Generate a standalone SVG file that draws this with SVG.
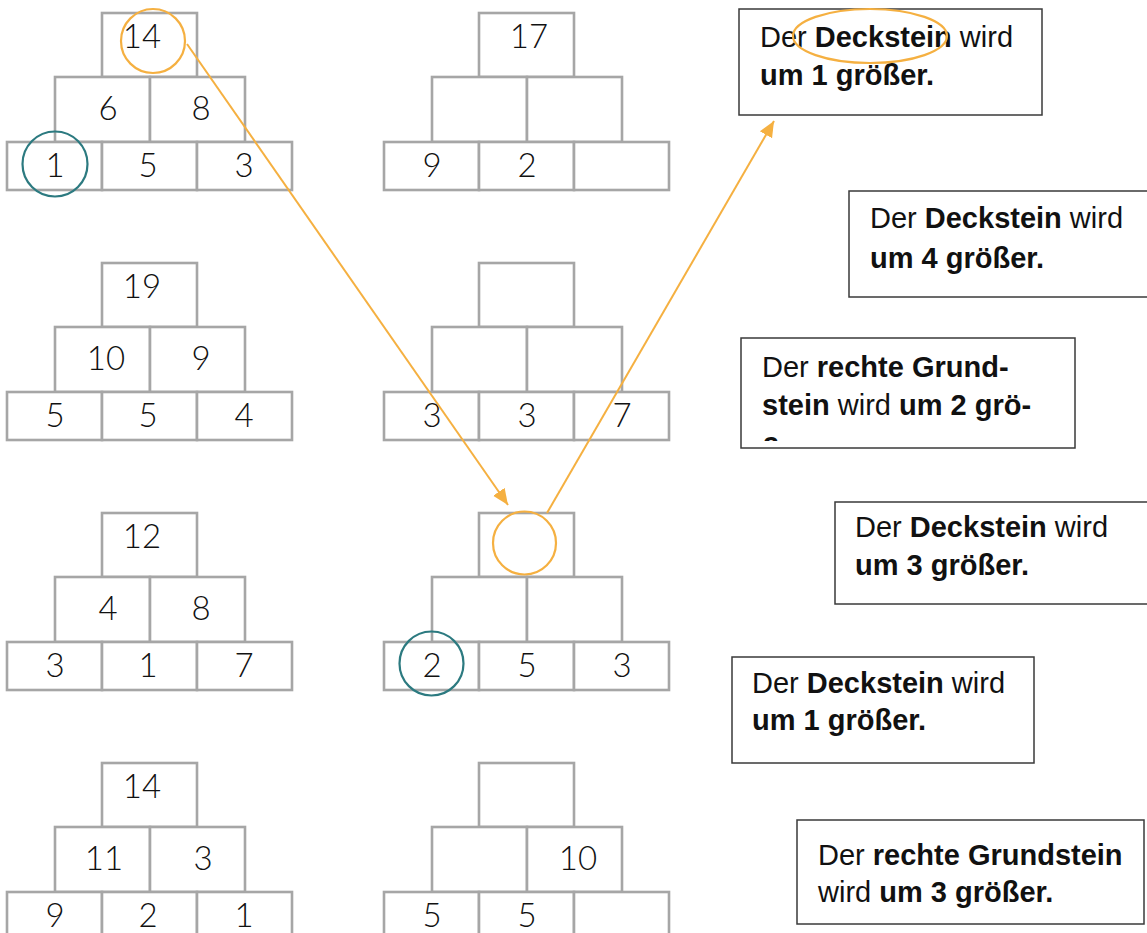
<svg xmlns="http://www.w3.org/2000/svg" width="1147" height="933" viewBox="0 0 1147 933">
<style>
.b{fill:#fff;stroke:#a6a6a6;stroke-width:2.6}
.n{font-family:Lato,"Liberation Sans",sans-serif;font-weight:300;font-size:33px;fill:#111;text-anchor:middle}
.box{fill:#fff;stroke:#3a3a3a;stroke-width:1.5}
.t{font-family:"Liberation Sans",Arial,sans-serif;font-size:29px;fill:#111}
.s{font-weight:bold}
.or{fill:none;stroke:#f5b041;stroke-width:2.2}
.te{fill:none;stroke:#2c7a80;stroke-width:2.2}
.ar{fill:none;stroke:#f5b041;stroke-width:2}
</style>
<defs>
<g id="pyr">
<rect class="b" x="95" y="0" width="95" height="64"/>
<rect class="b" x="48" y="64" width="95" height="65"/>
<rect class="b" x="143" y="64" width="95" height="65"/>
<rect class="b" x="0" y="129" width="95" height="48"/>
<rect class="b" x="95" y="129" width="95" height="48"/>
<rect class="b" x="190" y="129" width="95" height="48"/>
</g>
<marker id="ah" markerUnits="userSpaceOnUse" markerWidth="18" markerHeight="16" refX="16" refY="7" orient="auto" viewBox="0 0 18 14">
<path d="M0,0 L16,7 L0,14 Z" fill="#f5b041"/>
</marker>
<clipPath id="c3"><rect x="740" y="337" width="336" height="104"/></clipPath>
</defs>
<rect width="1147" height="933" fill="#fff"/>

<g id="p1L" transform="translate(7,13)"><use href="#pyr"/></g>
<g id="p1L-n"><text class="n" x="142" y="48">14</text><text class="n" x="108" y="120">6</text><text class="n" x="201" y="120">8</text><text class="n" x="55" y="177">1</text><text class="n" x="148" y="177">5</text><text class="n" x="244" y="177">3</text></g>

<g id="p1M" transform="translate(384,13)"><use href="#pyr"/></g>
<g id="p1M-n"><text class="n" x="529" y="48">17</text><text class="n" x="432" y="177">9</text><text class="n" x="527" y="177">2</text></g>

<g id="p2L" transform="translate(7,263)"><use href="#pyr"/></g>
<g id="p2L-n"><text class="n" x="142" y="298">19</text><text class="n" x="106" y="370">10</text><text class="n" x="201" y="370">9</text><text class="n" x="55" y="427">5</text><text class="n" x="148" y="427">5</text><text class="n" x="244" y="427">4</text></g>

<g id="p2M" transform="translate(384,263)"><use href="#pyr"/></g>
<g id="p2M-n"><text class="n" x="432" y="427">3</text><text class="n" x="527" y="427">3</text><text class="n" x="622" y="427">7</text></g>

<g id="p3L" transform="translate(7,513)"><use href="#pyr"/></g>
<g id="p3L-n"><text class="n" x="142" y="548">12</text><text class="n" x="108" y="620">4</text><text class="n" x="201" y="620">8</text><text class="n" x="55" y="677">3</text><text class="n" x="148" y="677">1</text><text class="n" x="244" y="677">7</text></g>

<g id="p3M" transform="translate(384,513)"><use href="#pyr"/></g>
<g id="p3M-n"><text class="n" x="432" y="677">2</text><text class="n" x="527" y="677">5</text><text class="n" x="622" y="677">3</text></g>

<g id="p4L" transform="translate(7,763)"><use href="#pyr"/></g>
<g id="p4L-n"><text class="n" x="142" y="798">14</text><text class="n" x="104" y="870">11</text><text class="n" x="203" y="870">3</text><text class="n" x="55" y="927">9</text><text class="n" x="148" y="927">2</text><text class="n" x="244" y="927">1</text></g>

<g id="p4M" transform="translate(384,763)"><use href="#pyr"/></g>
<g id="p4M-n"><text class="n" x="578" y="870">10</text><text class="n" x="432" y="927">5</text><text class="n" x="527" y="927">5</text></g>

<g id="card1"><rect class="box" x="739" y="9" width="303" height="106"/>
<text class="t" x="760" y="47">Der <tspan class="s">Deckstein</tspan> wird</text>
<text class="t s" x="760" y="85">um 1 größer.</text></g>

<g id="card2"><rect class="box" x="849" y="191" width="300" height="106"/>
<text class="t" x="870" y="228">Der <tspan class="s">Deckstein</tspan> wird</text>
<text class="t s" x="870" y="268">um 4 größer.</text></g>

<g id="card3"><rect class="box" x="741" y="338" width="334" height="110"/>
<g clip-path="url(#c3)">
<text class="t" x="762" y="377">Der <tspan class="s">rechte Grund-</tspan></text>
<text class="t" x="762" y="415"><tspan class="s">stein</tspan> wird <tspan class="s">um 2 grö-</tspan></text>
<text class="t s" x="762" y="459">ßer.</text>
</g></g>

<g id="card4"><rect class="box" x="835" y="502" width="314" height="102"/>
<text class="t" x="855" y="537">Der <tspan class="s">Deckstein</tspan> wird</text>
<text class="t s" x="855" y="575">um 3 größer.</text></g>

<g id="card5"><rect class="box" x="732" y="657" width="302" height="106"/>
<text class="t" x="752" y="693">Der <tspan class="s">Deckstein</tspan> wird</text>
<text class="t s" x="752" y="730">um 1 größer.</text></g>

<g id="card6"><rect class="box" x="797" y="820" width="347" height="104"/>
<text class="t" x="818" y="865">Der <tspan class="s">rechte Grundstein</tspan></text>
<text class="t" x="818" y="902">wird <tspan class="s">um 3 größer.</tspan></text></g>

<g id="marks">
<circle class="or" cx="153" cy="41" r="32"/>
<circle class="te" cx="55" cy="164" r="32.5"/>
<circle class="or" cx="524.5" cy="543" r="31.5"/>
<circle class="te" cx="431.5" cy="663.5" r="32"/>
<ellipse class="or" cx="870" cy="36" rx="77" ry="27"/>
</g>

<g id="connectors">
<line class="ar" x1="187" y1="44" x2="508" y2="505" marker-end="url(#ah)"/>
<line class="ar" x1="547" y1="513" x2="774" y2="121" marker-end="url(#ah)"/>
</g>
</svg>
